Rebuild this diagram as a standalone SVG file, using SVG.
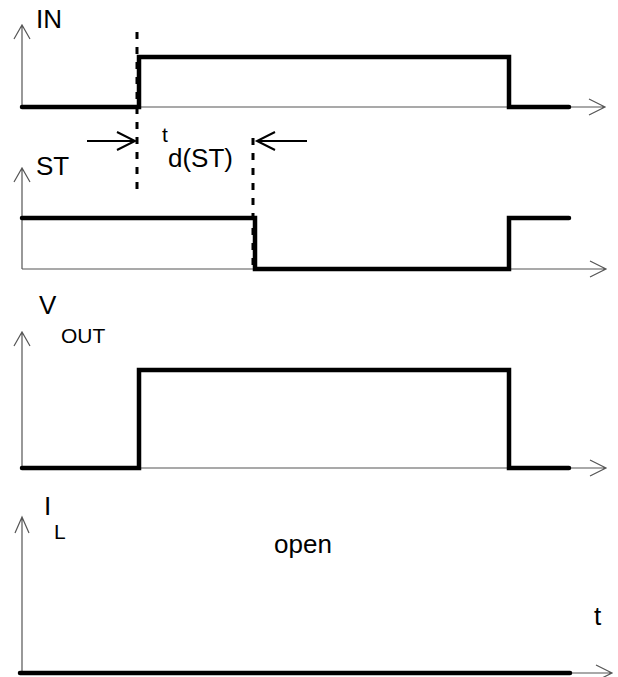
<svg xmlns="http://www.w3.org/2000/svg" width="618" height="677" viewBox="0 0 618 677">
<style>
.axis{fill:none;stroke:#555;stroke-width:1.2}
.sig{fill:none;stroke:#000;stroke-width:4.5;stroke-linecap:round;stroke-linejoin:miter}
.dash{fill:none;stroke:#000;stroke-width:3;stroke-dasharray:7 8}
.arr{fill:none;stroke:#000;stroke-width:2}
.lbl{font-family:"Liberation Sans",Arial,sans-serif;font-size:26px;fill:#000}
.sub{font-family:"Liberation Sans",Arial,sans-serif;font-size:21px;fill:#000}
</style>
<rect width="618" height="677" fill="#fff"/>
<g id="axes">
<path class="axis" d="M22,107 V25 M14,39 L22,25 L30,39 M22,107 H605 M589,99 L605,107 L589,115"/>
<path class="axis" d="M22,269 V168 M14,182 L22,168 L30,182 M22,269 H606 M590,261 L606,269 L590,277"/>
<path class="axis" d="M22,468 V332 M14,346 L22,332 L30,346 M22,468 H606 M590,460 L606,468 L590,476"/>
<path class="axis" d="M22,673 V517 M15,533 L22,517 L29,533 M22,673 H612 M596,665 L612,673 L596,681"/>
</g>
<g id="signal-in"><path class="sig" d="M22,107 H139 V57 H509 V107 H569"/></g>
<g id="signal-st"><path class="sig" d="M22,218 H255 V269 H509 V218 H569"/></g>
<g id="signal-vout"><path class="sig" d="M22,468 H139 V370 H509 V468 H569"/></g>
<g id="signal-il"><path class="sig" d="M20,673 H570"/></g>
<g id="connectors">
<line class="dash" x1="137" y1="32" x2="137" y2="192"/>
<line class="dash" x1="253" y1="138" x2="253" y2="270"/>
<path class="arr" d="M87,141 H135 M117,132 L135,141 L117,150"/>
<path class="arr" d="M307,141 H257 M275,132 L257,141 L275,150"/>
</g>
<g id="labels">
<text class="lbl" x="36" y="28">IN</text>
<text class="lbl" x="36" y="175">ST</text>
<text class="lbl" x="39" y="314">V</text>
<text class="sub" x="61" y="343">OUT</text>
<text class="lbl" x="44" y="515">I</text>
<text class="sub" x="54" y="539">L</text>
<text class="sub" x="162" y="142">t</text>
<text class="lbl" x="168" y="167">d(ST)</text>
<text class="lbl" x="274" y="553">open</text>
<text class="lbl" x="594" y="625">t</text>
</g>
</svg>
